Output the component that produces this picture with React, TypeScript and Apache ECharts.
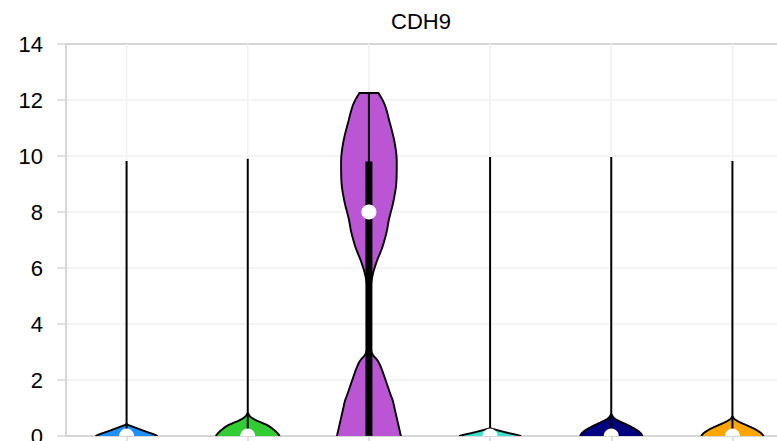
import React, { useEffect, useRef } from "react";
import * as echarts from "echarts";

// Cell clusters along the x axis
const groups = ["0", "1", "2", "3", "4", "5"];
const groupColors = ["#1E90FF", "#32CD32", "#BA55D3", "#40E0D0", "#000080", "#FFA500"];

// Box summary per cluster (expression of CDH9)
const minValues = [0, 0, 0, 0, 0, 0];
const q1Values = [0, 0, 0, 0, 0, 0];
const medianValues = [0, 0, 8.0, 0, 0, 0];
const q3Values = [0, 0, 9.8, 0, 0, 0];
const maxValues = [9.82, 9.9, 12.25, 9.96, 9.96, 9.82];

// Kernel density profiles: sample levels and relative density at each level
const densityLevels: number[][] = [
  [0, 0.06, 0.12, 0.18, 0.24, 0.3, 0.35, 0.39, 0.43],
  [0, 0.1, 0.2, 0.29, 0.38, 0.46, 0.55, 0.64, 0.72, 0.78, 0.82],
  [0, 0.5, 1.0, 1.25, 1.5, 2.0, 2.5, 2.68, 2.93, 3.5, 4.5, 5.2, 5.79, 6.25, 6.71, 7.32, 7.7, 8.4, 9.1, 9.8, 10.5, 11.2, 11.9, 12.25],
  [0, 0.05, 0.1, 0.15, 0.2, 0.24, 0.28],
  [0, 0.1, 0.2, 0.28, 0.36, 0.44, 0.52, 0.6, 0.68, 0.74, 0.78],
  [0, 0.1, 0.18, 0.26, 0.33, 0.4, 0.47, 0.54, 0.61, 0.66, 0.7],
];
const densityValues: number[][] = [
  [0.97, 0.85, 0.7, 0.55, 0.41, 0.27, 0.15, 0.06, 0],
  [1.0, 0.93, 0.84, 0.74, 0.62, 0.47, 0.28, 0.14, 0.06, 0.025, 0],
  [1.0, 0.9, 0.8, 0.75, 0.67, 0.52, 0.36, 0.28, 0.11, 0.01, 0.01, 0.04, 0.125, 0.25, 0.41, 0.56, 0.62, 0.77, 0.86, 0.87, 0.8, 0.65, 0.47, 0.3],
  [0.97, 0.8, 0.6, 0.42, 0.25, 0.12, 0],
  [0.98, 0.92, 0.82, 0.7, 0.57, 0.42, 0.27, 0.14, 0.06, 0.025, 0],
  [0.98, 0.9, 0.8, 0.68, 0.55, 0.41, 0.27, 0.15, 0.06, 0.025, 0],
];

const yTicks = [0, 2, 4, 6, 8, 10, 12, 14];

const FONT = "'Liberation Sans', Arial, Helvetica, sans-serif";
const AXIS_GREY = "#d6d6d6";
const GRID_GREY = "#f1f1f1";

// Monotone cubic (Fritsch–Carlson) evaluation of a density profile
function monotoneCurve(xs: number[], ys: number[], perSegment: number): number[][] {
  const n = xs.length;
  const d: number[] = [];
  for (let k = 0; k < n - 1; k++) d.push((ys[k + 1] - ys[k]) / (xs[k + 1] - xs[k]));
  const m: number[] = new Array(n).fill(0);
  m[0] = d[0];
  m[n - 1] = d[n - 2];
  for (let k = 1; k < n - 1; k++) m[k] = d[k - 1] * d[k] <= 0 ? 0 : (d[k - 1] + d[k]) / 2;
  for (let k = 0; k < n - 1; k++) {
    if (d[k] === 0) {
      m[k] = 0;
      m[k + 1] = 0;
      continue;
    }
    const a = m[k] / d[k];
    const b = m[k + 1] / d[k];
    const s = a * a + b * b;
    if (s > 9) {
      const t = 3 / Math.sqrt(s);
      m[k] = t * a * d[k];
      m[k + 1] = t * b * d[k];
    }
  }
  const out: number[][] = [];
  for (let k = 0; k < n - 1; k++) {
    const h = xs[k + 1] - xs[k];
    for (let j = 0; j < perSegment; j++) {
      const t = j / perSegment;
      const t2 = t * t;
      const t3 = t2 * t;
      const v =
        (2 * t3 - 3 * t2 + 1) * ys[k] +
        (t3 - 2 * t2 + t) * h * m[k] +
        (-2 * t3 + 3 * t2) * ys[k + 1] +
        (t3 - t2) * h * m[k + 1];
      out.push([xs[k] + t * h, Math.max(0, v)]);
    }
  }
  out.push([xs[n - 1], ys[n - 1]]);
  return out;
}

function renderViolin(params: any, api: any) {
  const i = params.dataIndex;
  const cs = params.coordSys;
  const band = api.size([1, 0])[0];
  const maxHalf = band * 0.264;
  const cx = api.coord([i, 0])[0];
  const yBottom = api.coord([i, 0])[1];

  const curve = monotoneCurve(densityLevels[i], densityValues[i], 10);
  const left: number[][] = [];
  const right: number[][] = [];
  for (const [lv, dv] of curve) {
    const py = api.coord([i, lv])[1];
    const hw = dv * maxHalf;
    left.push([cx - hw, py]);
    right.push([cx + hw, py]);
  }
  const baseHalf = densityValues[i][0] * maxHalf;
  const fillPts = [
    [cx - baseHalf, yBottom + 12],
    ...left,
    ...right.slice().reverse(),
    [cx + baseHalf, yBottom + 12],
  ];
  const outline = [...left, ...right.slice().reverse()];

  const children: any[] = [
    {
      type: "line",
      shape: { x1: cx, y1: cs.y, x2: cx, y2: cs.y + cs.height },
      style: { stroke: GRID_GREY, lineWidth: 1.6 },
      z2: 0,
    },
    {
      type: "polygon",
      shape: { points: fillPts },
      style: { fill: groupColors[i], stroke: "none" },
      z2: 1,
    },
    {
      type: "polyline",
      shape: { points: outline },
      style: { fill: "none", stroke: "#000", lineWidth: 1.9, lineJoin: "round" },
      z2: 2,
    },
    {
      type: "line",
      shape: {
        x1: cx,
        y1: api.coord([i, minValues[i]])[1],
        x2: cx,
        y2: api.coord([i, maxValues[i]])[1],
      },
      style: { stroke: "#000", lineWidth: 2 },
      z2: 3,
    },
  ];
  if (q3Values[i] > q1Values[i]) {
    const top = api.coord([i, q3Values[i]])[1];
    const bot = api.coord([i, q1Values[i]])[1];
    children.push({
      type: "rect",
      shape: { x: cx - 3.5, y: top, width: 7, height: bot - top },
      style: { fill: "#000" },
      z2: 4,
    });
  }
  const m = api.coord([i, medianValues[i]]);
  children.push({
    type: "circle",
    shape: { cx: m[0], cy: m[1], r: 7.5 },
    style: { fill: "#fff" },
    z2: 5,
  });
  return { type: "group", children };
}

export default function App() {
  const ref = useRef<HTMLDivElement>(null);

  useEffect(() => {
    if (!ref.current) return;
    const chart = echarts.init(ref.current, undefined, { renderer: "svg" });
    chart.setOption({
      animation: false,
      backgroundColor: "#fff",
      grid: {
        left: 66,
        right: -16,
        top: 44,
        bottom: 5,
        containLabel: false,
        outerBoundsMode: "none",
      },
      graphic: [
        {
          type: "text",
          x: 421,
          y: 21,
          style: {
            text: "CDH9",
            fontSize: 22,
            fontFamily: FONT,
            fill: "#000",
            textAlign: "center",
            textVerticalAlign: "middle",
          },
        },
      ],
      xAxis: [
        {
          type: "category",
          data: groups,
          position: "bottom",
          axisLine: { show: true, lineStyle: { color: AXIS_GREY, width: 2 } },
          axisTick: { show: true, alignWithLabel: true, length: 5, lineStyle: { color: AXIS_GREY, width: 1.5 } },
          axisLabel: { show: false },
          splitLine: { show: false },
        },
        {
          type: "category",
          data: groups,
          position: "top",
          axisLine: { show: true, lineStyle: { color: AXIS_GREY, width: 2 } },
          axisTick: { show: false },
          axisLabel: { show: false },
          splitLine: { show: false },
        },
      ],
      yAxis: {
        type: "value",
        min: yTicks[0],
        max: yTicks[yTicks.length - 1],
        interval: 2,
        axisLine: { show: true, lineStyle: { color: AXIS_GREY, width: 2 } },
        axisTick: { show: true, length: 9, lineStyle: { color: AXIS_GREY, width: 1.5 } },
        axisLabel: { color: "#000", fontSize: 22, fontFamily: FONT, margin: 23 },
        splitLine: { show: true, lineStyle: { color: GRID_GREY, width: 1.6 } },
      },
      series: [
        {
          type: "custom",
          xAxisIndex: 0,
          clip: true,
          renderItem: renderViolin,
          data: groups.map((_, i) => [i, maxValues[i]]),
        },
      ],
    });
    return () => chart.dispose();
  }, []);

  return (
    <div
      ref={ref}
      style={{ position: "fixed", left: 0, top: 0, width: 777, height: 441 }}
    />
  );
}
